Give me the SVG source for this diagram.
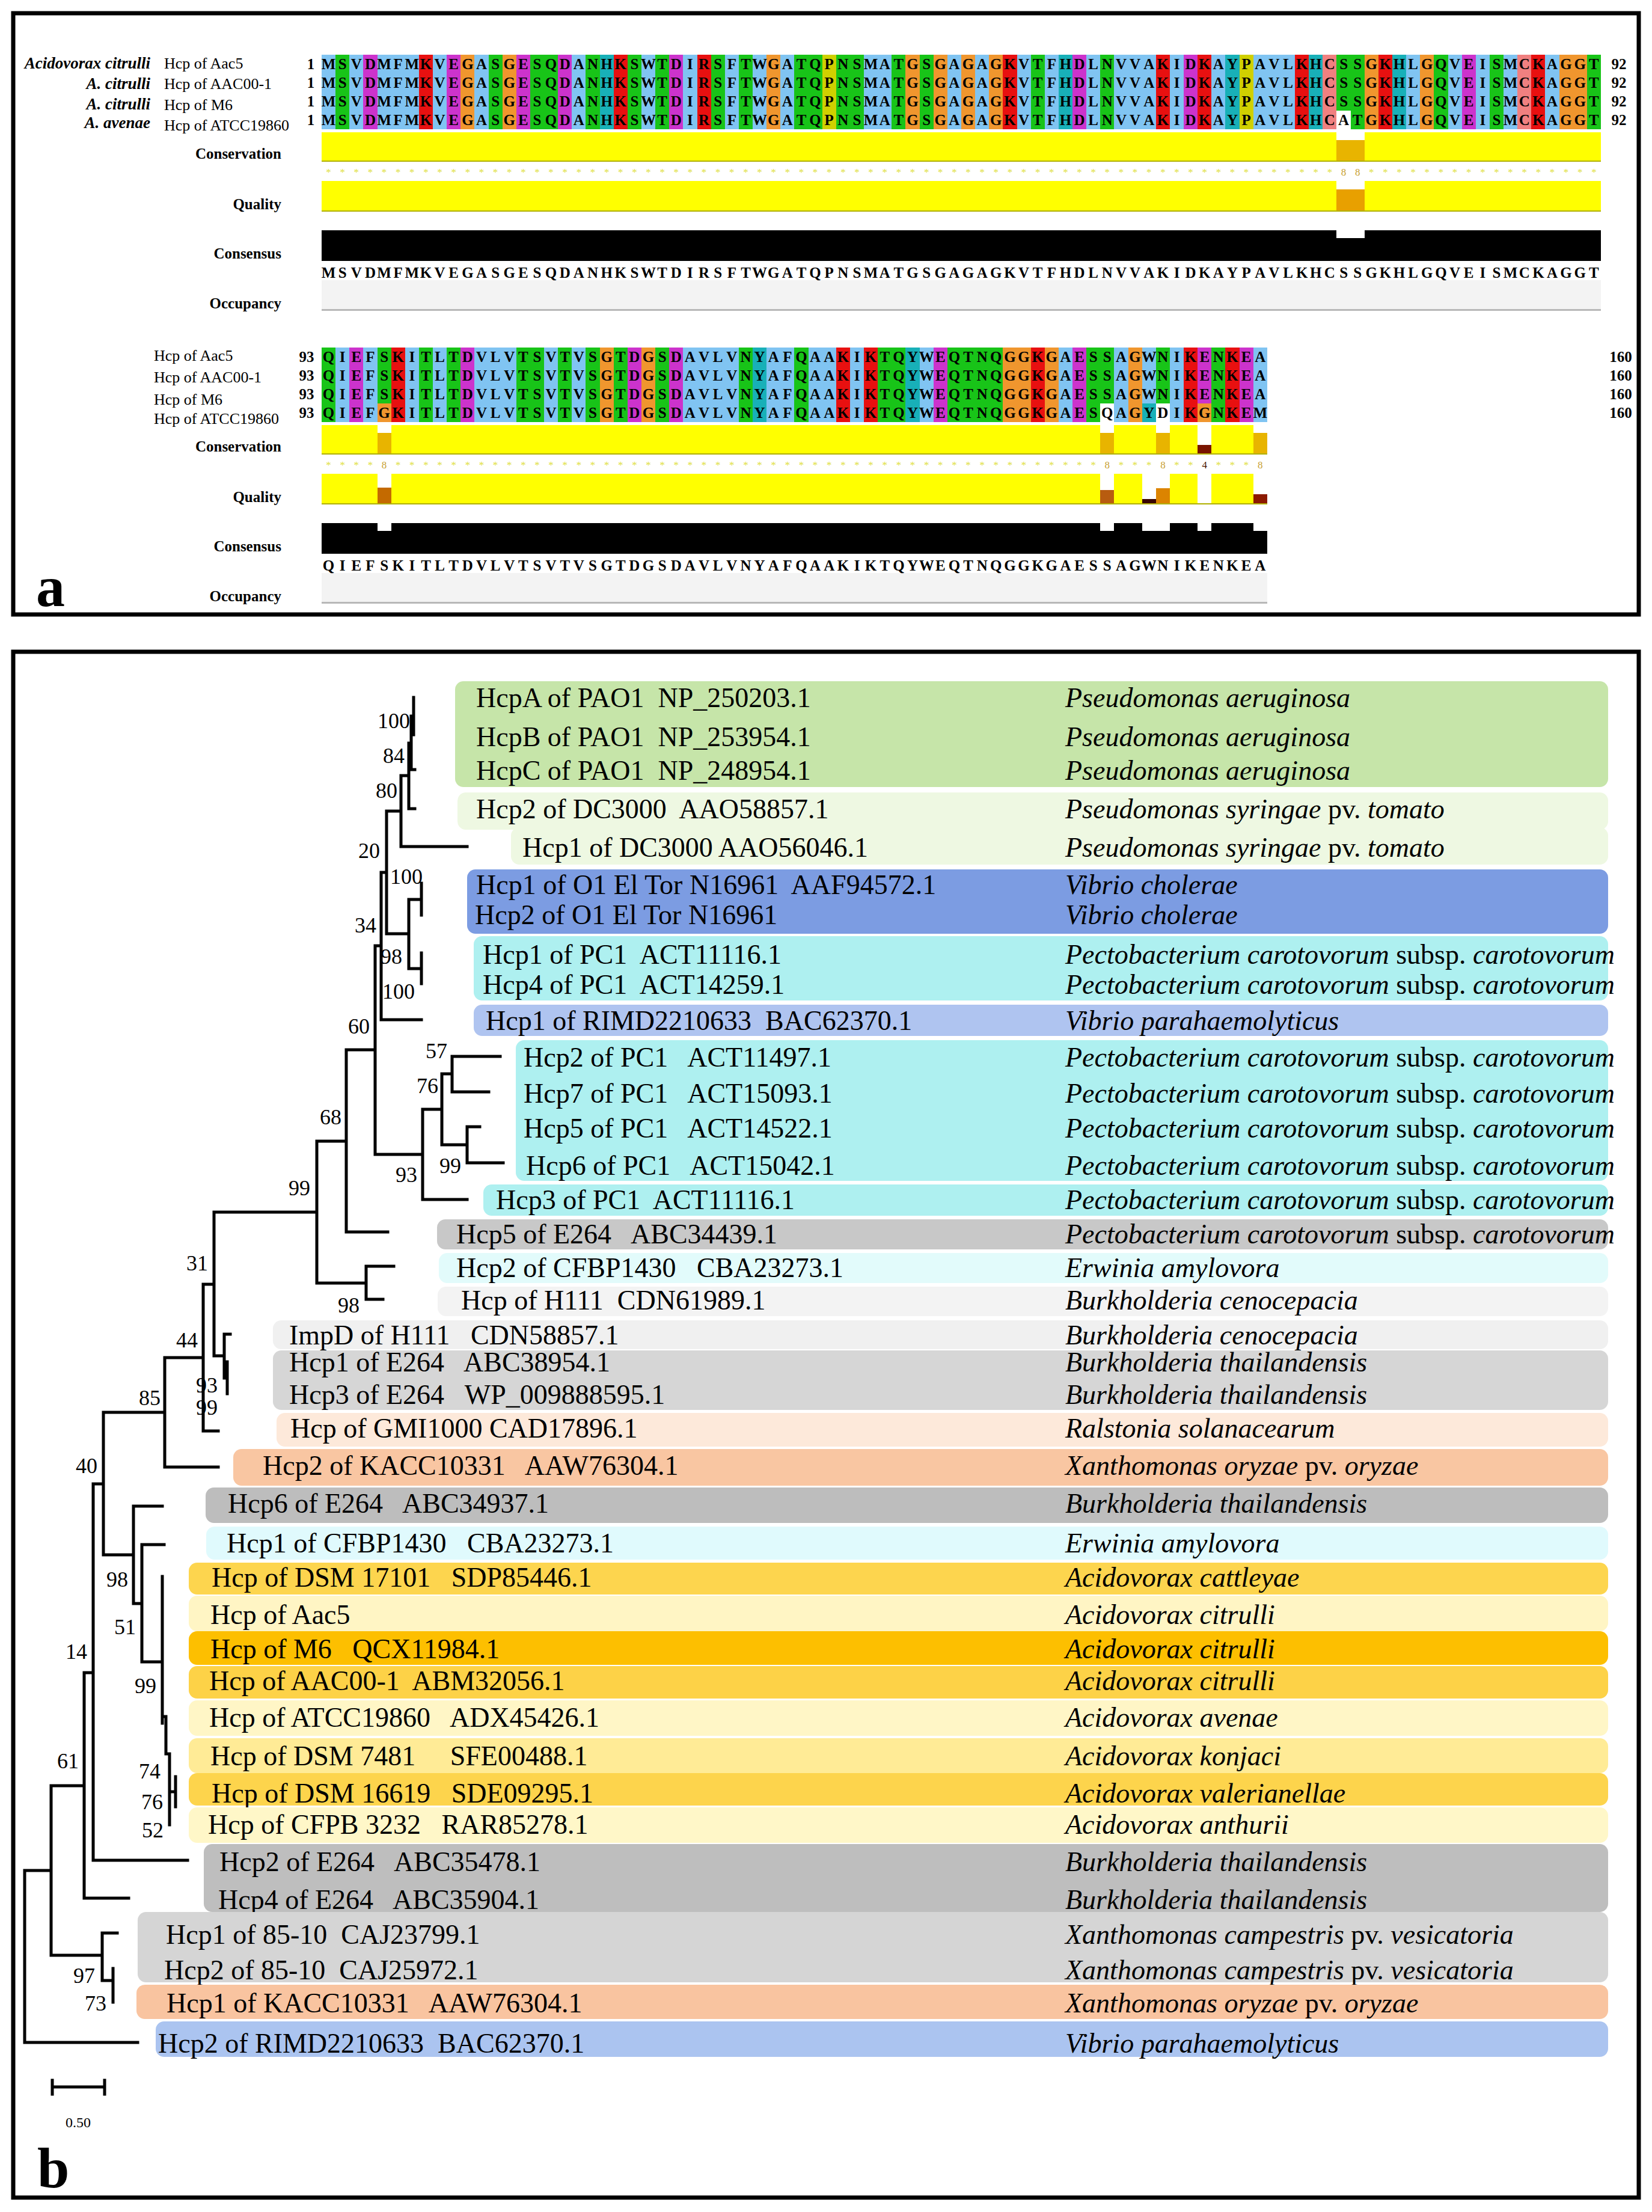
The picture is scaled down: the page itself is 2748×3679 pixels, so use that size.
<svg xmlns="http://www.w3.org/2000/svg" width="2748" height="3679" viewBox="0 0 2748 3679">
<style>
text{font-family:"Liberation Serif","Times New Roman",serif;fill:#000}
.frame{fill:none;stroke:#000;stroke-width:7}
.res{font-size:25px;font-weight:bold;text-anchor:middle}
.cB{fill:#80c4f2}.cG{fill:#18c418}.cM{fill:#cc33cc}.cR{fill:#e81010}.cO{fill:#f0962e}.cY{fill:#d0d000}.cC{fill:#18b0b8}.cK{fill:#f08080}.cW{fill:#fff}
.yel{fill:#ffff00}.blk{fill:#000}.occ{fill:#f3f3f3}.occl{fill:#b8b8b8}.edge{fill:#b0b000}
.o8{fill:#e8b400}.d4{fill:#7a1400}
.lab{font-size:25px;font-weight:bold;text-anchor:end}
.sp{font-size:27px;font-weight:bold;font-style:italic;text-anchor:end}
.nm{font-size:26px}
.num{font-size:25px;font-weight:bold;text-anchor:middle}
.mk{font-size:17px;text-anchor:middle;fill:#e0e040}
.m8{fill:#c8a030}.m4{fill:#4a1500}
.leaf{font-size:46px;white-space:pre}
.spc{font-size:46px;font-style:italic;white-space:pre}
.up{font-style:normal}
.bs{font-size:36px;text-anchor:middle}
.br{fill:none;stroke:#000;stroke-width:5;stroke-linecap:square}
.big{font-size:96px;font-weight:bold}
</style>
<defs>
<text id="s1" class="res" x="546.6 569.7 592.8 616 639.1 662.2 685.3 708.5 731.6 754.7 777.9 801 824.1 847.3 870.4 893.5 916.6 939.8 962.9 986 1009.2 1032.3 1055.4 1078.6 1101.7 1124.8 1147.9 1171.1 1194.2 1217.3 1240.5 1263.6 1286.7 1309.9 1333 1356.1 1379.2 1402.4 1425.5 1448.6 1471.8 1494.9 1518 1541.2 1564.3 1587.4 1610.5 1633.7 1656.8 1679.9 1703.1 1726.2 1749.3 1772.5 1795.6 1818.7 1841.8 1865 1888.1 1911.2 1934.4 1957.5 1980.6 2003.8 2026.9 2050 2073.1 2096.3 2119.4 2142.5 2165.7 2188.8 2211.9 2235.1 2258.2 2281.3 2304.4 2327.6 2350.7 2373.8 2397 2420.1 2443.2 2466.4 2489.5 2512.6 2535.7 2558.9 2582 2605.1 2628.3 2651.4" y="0">MSVDMFMKVEGASGESQDANHKSWTDIRSFTWGATQPNSMATGSGAGAGKVTFHDLNVVAKIDKAYPAVLKHCSSGKHLGQVEISMCKAGGT</text>
<text id="s2" class="res" x="546.6 569.7 592.8 616 639.1 662.2 685.3 708.5 731.6 754.7 777.9 801 824.1 847.3 870.4 893.5 916.6 939.8 962.9 986 1009.2 1032.3 1055.4 1078.6 1101.7 1124.8 1147.9 1171.1 1194.2 1217.3 1240.5 1263.6 1286.7 1309.9 1333 1356.1 1379.2 1402.4 1425.5 1448.6 1471.8 1494.9 1518 1541.2 1564.3 1587.4 1610.5 1633.7 1656.8 1679.9 1703.1 1726.2 1749.3 1772.5 1795.6 1818.7 1841.8 1865 1888.1 1911.2 1934.4 1957.5 1980.6 2003.8 2026.9 2050 2073.1 2096.3" y="0">QIEFSKITLTDVLVTSVTVSGTDGSDAVLVNYAFQAAKIKTQYWEQTNQGGKGAESSAGWNIKENKEA</text>
</defs>
<rect width="2748" height="3679" fill="#fff"/>

<!-- ============ PANEL A ============ -->
<g id="panel-a">
<rect class="frame" x="22" y="22" width="2704" height="1000"/>
<text class="big" x="60" y="1008">a</text>

<!-- block 1 labels -->
<g id="a-labels-1">
<text class="sp" x="250" y="114">Acidovorax citrulli</text>
<text class="sp" x="250" y="148">A. citrulli</text>
<text class="sp" x="250" y="182">A. citrulli</text>
<text class="sp" x="250" y="213">A. avenae</text>
<text class="nm" x="273" y="114">Hcp of Aac5</text>
<text class="nm" x="273" y="148">Hcp of AAC00-1</text>
<text class="nm" x="273" y="183">Hcp of M6</text>
<text class="nm" x="273" y="217">Hcp of ATCC19860</text>
<text class="num" x="517" y="115">1</text><text class="num" x="517" y="146">1</text><text class="num" x="517" y="177">1</text><text class="num" x="517" y="208">1</text>
<text class="num" x="2693" y="115">92</text><text class="num" x="2693" y="146">92</text><text class="num" x="2693" y="177">92</text><text class="num" x="2693" y="208">92</text>
<text class="lab" x="468" y="264">Conservation</text>
<text class="lab" x="468" y="348">Quality</text>
<text class="lab" x="468" y="430">Consensus</text>
<text class="lab" x="468" y="513">Occupancy</text>
</g>

<!-- block 1 residue colours -->
<g id="a-colours-1" transform="translate(535,91) scale(23.13,1)" shape-rendering="crispEdges">
<rect class="cB" x="0" width="1" height="124"/><rect class="cG" x="1" width="1" height="124"/><rect class="cB" x="2" width="1" height="124"/><rect class="cM" x="3" width="1" height="124"/><rect class="cB" x="4" width="3" height="124"/><rect class="cR" x="7" width="1" height="124"/><rect class="cB" x="8" width="1" height="124"/><rect class="cM" x="9" width="1" height="124"/><rect class="cO" x="10" width="1" height="124"/><rect class="cB" x="11" width="1" height="124"/><rect class="cG" x="12" width="1" height="124"/><rect class="cO" x="13" width="1" height="124"/><rect class="cM" x="14" width="1" height="124"/><rect class="cG" x="15" width="2" height="124"/><rect class="cM" x="17" width="1" height="124"/><rect class="cB" x="18" width="1" height="124"/><rect class="cG" x="19" width="1" height="124"/><rect class="cC" x="20" width="1" height="124"/><rect class="cR" x="21" width="1" height="124"/><rect class="cG" x="22" width="1" height="124"/><rect class="cB" x="23" width="1" height="124"/><rect class="cG" x="24" width="1" height="124"/><rect class="cM" x="25" width="1" height="124"/><rect class="cB" x="26" width="1" height="124"/><rect class="cR" x="27" width="1" height="124"/><rect class="cG" x="28" width="1" height="124"/><rect class="cB" x="29" width="1" height="124"/><rect class="cG" x="30" width="1" height="124"/><rect class="cB" x="31" width="1" height="124"/><rect class="cO" x="32" width="1" height="124"/><rect class="cB" x="33" width="1" height="124"/><rect class="cG" x="34" width="2" height="124"/><rect class="cY" x="36" width="1" height="124"/><rect class="cG" x="37" width="2" height="124"/><rect class="cB" x="39" width="2" height="124"/><rect class="cG" x="41" width="1" height="124"/><rect class="cO" x="42" width="1" height="124"/><rect class="cG" x="43" width="1" height="124"/><rect class="cO" x="44" width="1" height="124"/><rect class="cB" x="45" width="1" height="124"/><rect class="cO" x="46" width="1" height="124"/><rect class="cB" x="47" width="1" height="124"/><rect class="cO" x="48" width="1" height="124"/><rect class="cR" x="49" width="1" height="124"/><rect class="cB" x="50" width="1" height="124"/><rect class="cG" x="51" width="1" height="124"/><rect class="cB" x="52" width="1" height="124"/><rect class="cC" x="53" width="1" height="124"/><rect class="cM" x="54" width="1" height="124"/><rect class="cB" x="55" width="1" height="124"/><rect class="cG" x="56" width="1" height="124"/><rect class="cB" x="57" width="3" height="124"/><rect class="cR" x="60" width="1" height="124"/><rect class="cB" x="61" width="1" height="124"/><rect class="cM" x="62" width="1" height="124"/><rect class="cR" x="63" width="1" height="124"/><rect class="cB" x="64" width="1" height="124"/><rect class="cC" x="65" width="1" height="124"/><rect class="cY" x="66" width="1" height="124"/><rect class="cB" x="67" width="3" height="124"/><rect class="cR" x="70" width="1" height="124"/><rect class="cC" x="71" width="1" height="124"/><rect class="cK" x="72" width="1" height="124"/><rect class="cG" x="73" width="2" height="124"/><rect class="cO" x="75" width="1" height="124"/><rect class="cR" x="76" width="1" height="124"/><rect class="cC" x="77" width="1" height="124"/><rect class="cB" x="78" width="1" height="124"/><rect class="cO" x="79" width="1" height="124"/><rect class="cG" x="80" width="1" height="124"/><rect class="cB" x="81" width="1" height="124"/><rect class="cM" x="82" width="1" height="124"/><rect class="cB" x="83" width="1" height="124"/><rect class="cG" x="84" width="1" height="124"/><rect class="cB" x="85" width="1" height="124"/><rect class="cK" x="86" width="1" height="124"/><rect class="cR" x="87" width="1" height="124"/><rect class="cB" x="88" width="1" height="124"/><rect class="cO" x="89" width="2" height="124"/><rect class="cG" x="91" width="1" height="124"/>
<rect class="cW" x="73" y="93" width="1" height="31"/>
</g>

<!-- block 1 annotation tracks -->
<g id="a-tracks-1" transform="translate(535,0) scale(23.13,1)" shape-rendering="crispEdges">
<rect class="yel" x="0" y="220" width="92" height="49"/>
<rect class="cW" x="73" y="220" width="2" height="13"/><rect class="o8" x="73" y="233" width="2" height="36"/>
<rect class="edge" x="0" y="267" width="92" height="2"/>
<rect class="yel" x="0" y="301" width="92" height="51"/>
<rect class="cW" x="73" y="301" width="2" height="14"/><rect fill="#e8a000" x="73" y="315" width="2" height="37"/>
<rect class="edge" x="0" y="350" width="92" height="2"/>
<rect class="blk" x="0" y="383" width="92" height="51"/>
<rect class="cW" x="73" y="383" width="2" height="13"/>
<rect class="occ" x="0" y="466" width="92" height="50"/>
<rect class="occl" x="0" y="514" width="92" height="3"/>
</g>
<g id="a-seq-1">
<use href="#s1" y="115"/><use href="#s1" y="146"/><use href="#s1" y="177"/>
<text class="res" x="546.6 569.7 592.8 616 639.1 662.2 685.3 708.5 731.6 754.7 777.9 801 824.1 847.3 870.4 893.5 916.6 939.8 962.9 986 1009.2 1032.3 1055.4 1078.6 1101.7 1124.8 1147.9 1171.1 1194.2 1217.3 1240.5 1263.6 1286.7 1309.9 1333 1356.1 1379.2 1402.4 1425.5 1448.6 1471.8 1494.9 1518 1541.2 1564.3 1587.4 1610.5 1633.7 1656.8 1679.9 1703.1 1726.2 1749.3 1772.5 1795.6 1818.7 1841.8 1865 1888.1 1911.2 1934.4 1957.5 1980.6 2003.8 2026.9 2050 2073.1 2096.3 2119.4 2142.5 2165.7 2188.8 2211.9 2235.1 2258.2 2281.3 2304.4 2327.6 2350.7 2373.8 2397 2420.1 2443.2 2466.4 2489.5 2512.6 2535.7 2558.9 2582 2605.1 2628.3 2651.4" y="208">MSVDMFMKVEGASGESQDANHKSWTDIRSFTWGATQPNSMATGSGAGAGKVTFHDLNVVAKIDKAYPAVLKHCATGKHLGQVEISMCKAGGT</text>
<use href="#s1" y="462"/>
<text class="mk" x="546.6 569.7 592.8 616 639.1 662.2 685.3 708.5 731.6 754.7 777.9 801 824.1 847.3 870.4 893.5 916.6 939.8 962.9 986 1009.2 1032.3 1055.4 1078.6 1101.7 1124.8 1147.9 1171.1 1194.2 1217.3 1240.5 1263.6 1286.7 1309.9 1333 1356.1 1379.2 1402.4 1425.5 1448.6 1471.8 1494.9 1518 1541.2 1564.3 1587.4 1610.5 1633.7 1656.8 1679.9 1703.1 1726.2 1749.3 1772.5 1795.6 1818.7 1841.8 1865 1888.1 1911.2 1934.4 1957.5 1980.6 2003.8 2026.9 2050 2073.1 2096.3 2119.4 2142.5 2165.7 2188.8 2211.9 2235.1 2258.2 2281.3 2304.4 2327.6 2350.7 2373.8 2397 2420.1 2443.2 2466.4 2489.5 2512.6 2535.7 2558.9 2582 2605.1 2628.3 2651.4" y="292">*************************************************************************<tspan class="m8">88</tspan>*****************</text>
</g>

<!-- block 2 labels -->
<g id="a-labels-2">
<text class="nm" x="256" y="600">Hcp of Aac5</text>
<text class="nm" x="256" y="636">Hcp of AAC00-1</text>
<text class="nm" x="256" y="673">Hcp of M6</text>
<text class="nm" x="256" y="705">Hcp of ATCC19860</text>
<text class="num" x="510" y="602">93</text><text class="num" x="510" y="633">93</text><text class="num" x="510" y="664">93</text><text class="num" x="510" y="695">93</text>
<text class="num" x="2696" y="602">160</text><text class="num" x="2696" y="633">160</text><text class="num" x="2696" y="664">160</text><text class="num" x="2696" y="695">160</text>
<text class="lab" x="468" y="751">Conservation</text>
<text class="lab" x="468" y="835">Quality</text>
<text class="lab" x="468" y="917">Consensus</text>
<text class="lab" x="468" y="1000">Occupancy</text>
</g>

<g id="a-colours-2" transform="translate(535,578) scale(23.13,1)" shape-rendering="crispEdges">
<rect class="cG" x="0" width="1" height="124"/><rect class="cB" x="1" width="1" height="124"/><rect class="cM" x="2" width="1" height="124"/><rect class="cB" x="3" width="1" height="124"/><rect class="cG" x="4" width="1" height="124"/><rect class="cR" x="5" width="1" height="124"/><rect class="cB" x="6" width="1" height="124"/><rect class="cG" x="7" width="1" height="124"/><rect class="cB" x="8" width="1" height="124"/><rect class="cG" x="9" width="1" height="124"/><rect class="cM" x="10" width="1" height="124"/><rect class="cB" x="11" width="3" height="124"/><rect class="cG" x="14" width="2" height="124"/><rect class="cB" x="16" width="1" height="124"/><rect class="cG" x="17" width="1" height="124"/><rect class="cB" x="18" width="1" height="124"/><rect class="cG" x="19" width="1" height="124"/><rect class="cO" x="20" width="1" height="124"/><rect class="cG" x="21" width="1" height="124"/><rect class="cM" x="22" width="1" height="124"/><rect class="cO" x="23" width="1" height="124"/><rect class="cG" x="24" width="1" height="124"/><rect class="cM" x="25" width="1" height="124"/><rect class="cB" x="26" width="4" height="124"/><rect class="cG" x="30" width="1" height="124"/><rect class="cC" x="31" width="1" height="124"/><rect class="cB" x="32" width="2" height="124"/><rect class="cG" x="34" width="1" height="124"/><rect class="cB" x="35" width="2" height="124"/><rect class="cR" x="37" width="1" height="124"/><rect class="cB" x="38" width="1" height="124"/><rect class="cR" x="39" width="1" height="124"/><rect class="cG" x="40" width="2" height="124"/><rect class="cC" x="42" width="1" height="124"/><rect class="cB" x="43" width="1" height="124"/><rect class="cM" x="44" width="1" height="124"/><rect class="cG" x="45" width="4" height="124"/><rect class="cO" x="49" width="2" height="124"/><rect class="cR" x="51" width="1" height="124"/><rect class="cO" x="52" width="1" height="124"/><rect class="cB" x="53" width="1" height="124"/><rect class="cM" x="54" width="1" height="124"/><rect class="cG" x="55" width="2" height="124"/><rect class="cB" x="57" width="1" height="124"/><rect class="cO" x="58" width="1" height="124"/><rect class="cB" x="59" width="1" height="124"/><rect class="cG" x="60" width="1" height="124"/><rect class="cB" x="61" width="1" height="124"/><rect class="cR" x="62" width="1" height="124"/><rect class="cM" x="63" width="1" height="124"/><rect class="cG" x="64" width="1" height="124"/><rect class="cR" x="65" width="1" height="124"/><rect class="cM" x="66" width="1" height="124"/><rect class="cB" x="67" width="1" height="124"/>
<rect class="cO" x="4" y="93" width="1" height="31"/><rect class="cW" x="56" y="93" width="1" height="31"/><rect class="cC" x="59" y="93" width="1" height="31"/><rect class="cW" x="60" y="93" width="1" height="31"/><rect class="cO" x="63" y="93" width="1" height="31"/>
</g>

<g id="a-tracks-2" transform="translate(535,0) scale(23.13,1)" shape-rendering="crispEdges">
<rect class="yel" x="0" y="707" width="68" height="49"/>
<rect class="cW" x="4" y="707" width="1" height="13"/><rect class="o8" x="4" y="720" width="1" height="36"/>
<rect class="cW" x="56" y="707" width="1" height="13"/><rect class="o8" x="56" y="720" width="1" height="36"/>
<rect class="cW" x="60" y="707" width="1" height="13"/><rect class="o8" x="60" y="720" width="1" height="36"/>
<rect class="cW" x="63" y="707" width="1" height="33"/><rect class="d4" x="63" y="740" width="1" height="16"/>
<rect class="cW" x="67" y="707" width="1" height="13"/><rect class="o8" x="67" y="720" width="1" height="36"/>
<rect class="edge" x="0" y="754" width="68" height="2"/>
<rect class="yel" x="0" y="788" width="68" height="51"/>
<rect class="cW" x="4" y="788" width="1" height="23"/><rect fill="#c46a00" x="4" y="811" width="1" height="28"/>
<rect class="cW" x="56" y="788" width="1" height="27"/><rect fill="#b85c10" x="56" y="815" width="1" height="24"/>
<rect class="cW" x="59" y="788" width="1" height="42"/><rect fill="#3a0600" x="59" y="830" width="1" height="9"/>
<rect class="cW" x="60" y="788" width="1" height="24"/><rect fill="#dc8400" x="60" y="812" width="1" height="27"/>
<rect class="cW" x="63" y="788" width="1" height="51"/>
<rect class="cW" x="67" y="788" width="1" height="34"/><rect fill="#8c1a00" x="67" y="822" width="1" height="17"/>
<rect class="edge" x="0" y="837" width="68" height="2"/>
<rect class="blk" x="0" y="870" width="68" height="51"/>
<rect class="cW" x="4" y="870" width="1" height="13"/><rect class="cW" x="56" y="870" width="1" height="13"/><rect class="cW" x="59" y="870" width="2" height="13"/><rect class="cW" x="63" y="870" width="1" height="13"/><rect class="cW" x="67" y="870" width="1" height="13"/>
<rect class="occ" x="0" y="953" width="68" height="50"/>
<rect class="occl" x="0" y="1001" width="68" height="3"/>
</g>
<g id="a-seq-2">
<use href="#s2" y="602"/><use href="#s2" y="633"/><use href="#s2" y="664"/>
<text class="res" x="546.6 569.7 592.8 616 639.1 662.2 685.3 708.5 731.6 754.7 777.9 801 824.1 847.3 870.4 893.5 916.6 939.8 962.9 986 1009.2 1032.3 1055.4 1078.6 1101.7 1124.8 1147.9 1171.1 1194.2 1217.3 1240.5 1263.6 1286.7 1309.9 1333 1356.1 1379.2 1402.4 1425.5 1448.6 1471.8 1494.9 1518 1541.2 1564.3 1587.4 1610.5 1633.7 1656.8 1679.9 1703.1 1726.2 1749.3 1772.5 1795.6 1818.7 1841.8 1865 1888.1 1911.2 1934.4 1957.5 1980.6 2003.8 2026.9 2050 2073.1 2096.3" y="695">QIEFGKITLTDVLVTSVTVSGTDGSDAVLVNYAFQAAKIKTQYWEQTNQGGKGAESQAGYDIKGNKEM</text>
<use href="#s2" y="949"/>
<text class="mk" x="546.6 569.7 592.8 616 639.1 662.2 685.3 708.5 731.6 754.7 777.9 801 824.1 847.3 870.4 893.5 916.6 939.8 962.9 986 1009.2 1032.3 1055.4 1078.6 1101.7 1124.8 1147.9 1171.1 1194.2 1217.3 1240.5 1263.6 1286.7 1309.9 1333 1356.1 1379.2 1402.4 1425.5 1448.6 1471.8 1494.9 1518 1541.2 1564.3 1587.4 1610.5 1633.7 1656.8 1679.9 1703.1 1726.2 1749.3 1772.5 1795.6 1818.7 1841.8 1865 1888.1 1911.2 1934.4 1957.5 1980.6 2003.8 2026.9 2050 2073.1 2096.3" y="779">****<tspan class="m8">8</tspan>***************************************************<tspan class="m8">8</tspan>***<tspan class="m8">8</tspan>**<tspan class="m4">4</tspan>***<tspan class="m8">8</tspan></text>
</g>
</g>

<!-- ============ PANEL B ============ -->
<g id="panel-b">
<rect class="frame" x="22" y="1084" width="2704" height="2571"/>
<text class="big" x="62" y="3638">b</text>

<g id="leaf-pao1">
<rect x="757" y="1133" width="1918" height="176" rx="14" fill="#c6e5a9"/>
<text class="leaf" x="792" y="1176">HcpA of PAO1  NP_250203.1</text><text class="spc" x="1772" y="1176">Pseudomonas aeruginosa</text>
<text class="leaf" x="792" y="1241">HcpB of PAO1  NP_253954.1</text><text class="spc" x="1772" y="1241">Pseudomonas aeruginosa</text>
<text class="leaf" x="792" y="1297">HcpC of PAO1  NP_248954.1</text><text class="spc" x="1772" y="1297">Pseudomonas aeruginosa</text>
</g>
<g id="leaf-dc3000">
<rect x="761" y="1318" width="1914" height="62" rx="14" fill="#eef8e2"/>
<rect x="850" y="1376" width="1825" height="62" rx="14" fill="#eef8e2"/>
<text class="leaf" x="792" y="1361">Hcp2 of DC3000  AAO58857.1</text><text class="spc" x="1772" y="1361">Pseudomonas syringae <tspan class="up">pv.</tspan> tomato</text>
<text class="leaf" x="869" y="1425">Hcp1 of DC3000 AAO56046.1</text><text class="spc" x="1772" y="1425">Pseudomonas syringae <tspan class="up">pv.</tspan> tomato</text>
</g>
<g id="leaf-o1">
<rect x="777" y="1446" width="1898" height="107" rx="14" fill="#7c9ce2"/>
<text class="leaf" x="792" y="1487">Hcp1 of O1 El Tor N16961  AAF94572.1</text><text class="spc" x="1772" y="1487">Vibrio cholerae</text>
<text class="leaf" x="790" y="1537">Hcp2 of O1 El Tor N16961</text><text class="spc" x="1772" y="1537">Vibrio cholerae</text>
</g>
<g id="leaf-pc1-a">
<rect x="788" y="1557" width="1887" height="107" rx="14" fill="#aef0f0"/>
<text class="leaf" x="803" y="1603">Hcp1 of PC1  ACT11116.1</text><text class="spc" x="1772" y="1603">Pectobacterium carotovorum <tspan class="up">subsp.</tspan> carotovorum</text>
<text class="leaf" x="803" y="1653">Hcp4 of PC1  ACT14259.1</text><text class="spc" x="1772" y="1653">Pectobacterium carotovorum <tspan class="up">subsp.</tspan> carotovorum</text>
</g>
<g id="leaf-rimd1">
<rect x="788" y="1671" width="1887" height="52" rx="14" fill="#afc4f0"/>
<text class="leaf" x="808" y="1713">Hcp1 of RIMD2210633  BAC62370.1</text><text class="spc" x="1772" y="1713">Vibrio parahaemolyticus</text>
</g>
<g id="leaf-pc1-b">
<rect x="858" y="1730" width="1817" height="234" rx="14" fill="#aef0f0"/>
<text class="leaf" x="871" y="1774">Hcp2 of PC1   ACT11497.1</text><text class="spc" x="1772" y="1774">Pectobacterium carotovorum <tspan class="up">subsp.</tspan> carotovorum</text>
<text class="leaf" x="871" y="1834">Hcp7 of PC1   ACT15093.1</text><text class="spc" x="1772" y="1834">Pectobacterium carotovorum <tspan class="up">subsp.</tspan> carotovorum</text>
<text class="leaf" x="871" y="1892">Hcp5 of PC1   ACT14522.1</text><text class="spc" x="1772" y="1892">Pectobacterium carotovorum <tspan class="up">subsp.</tspan> carotovorum</text>
<text class="leaf" x="875" y="1954">Hcp6 of PC1   ACT15042.1</text><text class="spc" x="1772" y="1954">Pectobacterium carotovorum <tspan class="up">subsp.</tspan> carotovorum</text>
</g>
<g id="leaf-pc1-c">
<rect x="804" y="1970" width="1871" height="52" rx="14" fill="#aef0f0"/>
<text class="leaf" x="825" y="2011">Hcp3 of PC1  ACT11116.1</text><text class="spc" x="1772" y="2011">Pectobacterium carotovorum <tspan class="up">subsp.</tspan> carotovorum</text>
</g>
<g id="leaf-e264-5">
<rect x="727" y="2028" width="1948" height="50" rx="14" fill="#c8c8c8"/>
<text class="leaf" x="759" y="2068">Hcp5 of E264   ABC34439.1</text><text class="spc" x="1772" y="2068">Pectobacterium carotovorum <tspan class="up">subsp.</tspan> carotovorum</text>
</g>
<g id="leaf-cfbp2">
<rect x="730" y="2084" width="1945" height="50" rx="14" fill="#e2fbfb"/>
<text class="leaf" x="759" y="2124">Hcp2 of CFBP1430   CBA23273.1</text><text class="spc" x="1772" y="2124">Erwinia amylovora</text>
</g>
<g id="leaf-h111">
<rect x="728" y="2140" width="1947" height="49" rx="14" fill="#f3f3f3"/>
<text class="leaf" x="767" y="2178">Hcp of H111  CDN61989.1</text><text class="spc" x="1772" y="2178">Burkholderia cenocepacia</text>
</g>
<g id="leaf-impd">
<rect x="454" y="2196" width="2221" height="48" rx="14" fill="#f0f0f0"/>
<text class="leaf" x="481" y="2236">ImpD of H111   CDN58857.1</text><text class="spc" x="1772" y="2236">Burkholderia cenocepacia</text>
</g>
<g id="leaf-e264-13">
<rect x="454" y="2246" width="2221" height="99" rx="14" fill="#d6d6d6"/>
<text class="leaf" x="481" y="2281">Hcp1 of E264   ABC38954.1</text><text class="spc" x="1772" y="2281">Burkholderia thailandensis</text>
<text class="leaf" x="481" y="2335">Hcp3 of E264   WP_009888595.1</text><text class="spc" x="1772" y="2335">Burkholderia thailandensis</text>
</g>
<g id="leaf-gmi">
<rect x="460" y="2350" width="2215" height="56" rx="14" fill="#fde9da"/>
<text class="leaf" x="483" y="2391">Hcp of GMI1000 CAD17896.1</text><text class="spc" x="1772" y="2391">Ralstonia solanacearum</text>
</g>
<g id="leaf-kacc2">
<rect x="388" y="2410" width="2287" height="61" rx="14" fill="#f9c6a2"/>
<text class="leaf" x="437" y="2453">Hcp2 of KACC10331   AAW76304.1</text><text class="spc" x="1772" y="2453">Xanthomonas oryzae <tspan class="up">pv.</tspan> oryzae</text>
</g>
<g id="leaf-e264-6">
<rect x="342" y="2474" width="2333" height="59" rx="14" fill="#bdbdbd"/>
<text class="leaf" x="379" y="2516">Hcp6 of E264   ABC34937.1</text><text class="spc" x="1772" y="2516">Burkholderia thailandensis</text>
</g>
<g id="leaf-cfbp1">
<rect x="343" y="2539" width="2332" height="55" rx="14" fill="#e0fafd"/>
<text class="leaf" x="377" y="2582">Hcp1 of CFBP1430   CBA23273.1</text><text class="spc" x="1772" y="2582">Erwinia amylovora</text>
</g>
<g id="leaf-dsm17101">
<rect x="314" y="2599" width="2361" height="53" rx="14" fill="#fdd54e"/>
<text class="leaf" x="352" y="2639">Hcp of DSM 17101   SDP85446.1</text><text class="spc" x="1772" y="2639">Acidovorax cattleyae</text>
</g>
<g id="leaf-aac5">
<rect x="314" y="2654" width="2361" height="59" rx="14" fill="#fff5c4"/>
<text class="leaf" x="350" y="2701">Hcp of Aac5</text><text class="spc" x="1772" y="2701">Acidovorax citrulli</text>
</g>
<g id="leaf-m6">
<rect x="314" y="2713" width="2361" height="56" rx="14" fill="#fdbf00"/>
<text class="leaf" x="350" y="2758">Hcp of M6   QCX11984.1</text><text class="spc" x="1772" y="2758">Acidovorax citrulli</text>
</g>
<g id="leaf-aac00">
<rect x="314" y="2771" width="2361" height="54" rx="14" fill="#fdd247"/>
<text class="leaf" x="348" y="2811">Hcp of AAC00-1  ABM32056.1</text><text class="spc" x="1772" y="2811">Acidovorax citrulli</text>
</g>
<g id="leaf-atcc">
<rect x="314" y="2828" width="2361" height="59" rx="14" fill="#fff6c6"/>
<text class="leaf" x="348" y="2872">Hcp of ATCC19860   ADX45426.1</text><text class="spc" x="1772" y="2872">Acidovorax avenae</text>
</g>
<g id="leaf-dsm7481">
<rect x="314" y="2891" width="2361" height="58" rx="14" fill="#ffeb96"/>
<text class="leaf" x="350" y="2936">Hcp of DSM 7481     SFE00488.1</text><text class="spc" x="1772" y="2936">Acidovorax konjaci</text>
</g>
<g id="leaf-dsm16619">
<rect x="314" y="2949" width="2361" height="54" rx="14" fill="#fdd44c"/>
<text class="leaf" x="352" y="2998">Hcp of DSM 16619   SDE09295.1</text><text class="spc" x="1772" y="2998">Acidovorax valerianellae</text>
</g>
<g id="leaf-cfpb">
<rect x="314" y="3006" width="2361" height="59" rx="14" fill="#fff7c8"/>
<text class="leaf" x="346" y="3050">Hcp of CFPB 3232   RAR85278.1</text><text class="spc" x="1772" y="3050">Acidovorax anthurii</text>
</g>
<g id="leaf-e264-24">
<rect x="339" y="3067" width="2336" height="113" rx="14" fill="#bebebe"/>
<text class="leaf" x="365" y="3112">Hcp2 of E264   ABC35478.1</text><text class="spc" x="1772" y="3112">Burkholderia thailandensis</text>
<text class="leaf" x="363" y="3175">Hcp4 of E264   ABC35904.1</text><text class="spc" x="1772" y="3175">Burkholderia thailandensis</text>
</g>
<g id="leaf-8510">
<rect x="229" y="3180" width="2446" height="117" rx="14" fill="#d5d5d5"/>
<text class="leaf" x="276" y="3233">Hcp1 of 85-10  CAJ23799.1</text><text class="spc" x="1772" y="3233">Xanthomonas campestris <tspan class="up">pv.</tspan> vesicatoria</text>
<text class="leaf" x="273" y="3292">Hcp2 of 85-10  CAJ25972.1</text><text class="spc" x="1772" y="3292">Xanthomonas campestris <tspan class="up">pv.</tspan> vesicatoria</text>
</g>
<g id="leaf-kacc1">
<rect x="227" y="3301" width="2448" height="57" rx="14" fill="#f9c4a0"/>
<text class="leaf" x="277" y="3347">Hcp1 of KACC10331   AAW76304.1</text><text class="spc" x="1772" y="3347">Xanthomonas oryzae <tspan class="up">pv.</tspan> oryzae</text>
</g>
<g id="leaf-rimd2">
<rect x="259" y="3362" width="2416" height="59" rx="14" fill="#abc4f0"/>
<text class="leaf" x="263" y="3414">Hcp2 of RIMD2210633  BAC62370.1</text><text class="spc" x="1772" y="3414">Vibrio parahaemolyticus</text>
</g>

<g id="connectors">
<path class="br" d="M688,1160V1222 M684,1191V1280 M684,1191H688 M684,1280H690 M680,1236V1345H690 M680,1236H684 M667,1290V1408H777 M667,1290H680 M643,1349V1553H680 M643,1349H667 M680,1496V1611 M680,1496H701 M680,1611H701 M701,1469V1522 M701,1585V1636 M634,1451V1696H701 M634,1451H643 M624,1573V1920H703 M624,1573H634 M703,1845V1995H777 M703,1845H735 M735,1786V1904H777 M735,1786H752 M752,1757V1816H813 M752,1757H832 M777,1874V1934H837 M777,1874H798 M576,1746V2049H645 M576,1746H624 M609,2106V2161H637 M609,2106H655 M527,1898V2134H609 M527,1898H576 M356,2016V2255H373 M356,2016H527 M373,2219V2292H378 M373,2219H383 M378,2265V2318 M338,2136V2380H363 M338,2136H356 M274,2258V2440H363 M274,2258H338 M172,2349V2586H222 M172,2349H274 M222,2505V2667H236 M222,2505H270 M236,2569V2764H270 M236,2569H273 M270,2622V2866 M270,2855H276V2917H282V3035 M282,2980H292 M292,2955V3005 M155,2468V3094H312 M155,2468H172 M140,2782V3157H214 M140,2782H155 M85,2970V3252H170 M85,2970H140 M170,3215V3294H188 M170,3215H195 M188,3274V3330 M41,3111V3397H229 M41,3111H85"/>
</g>

<g id="bootstrap">
<text class="bs" x="655" y="1211">100</text><text class="bs" x="655" y="1269">84</text><text class="bs" x="643" y="1327">80</text><text class="bs" x="614" y="1427">20</text><text class="bs" x="676" y="1470">100</text><text class="bs" x="608" y="1551">34</text><text class="bs" x="651" y="1603">98</text><text class="bs" x="663" y="1661">100</text><text class="bs" x="597" y="1719">60</text><text class="bs" x="726" y="1760">57</text><text class="bs" x="711" y="1818">76</text><text class="bs" x="550" y="1870">68</text><text class="bs" x="676" y="1966">93</text><text class="bs" x="749" y="1951">99</text><text class="bs" x="498" y="1988">99</text><text class="bs" x="328" y="2113">31</text><text class="bs" x="580" y="2183">98</text><text class="bs" x="311" y="2241">44</text><text class="bs" x="249" y="2337">85</text><text class="bs" x="344" y="2316">93</text><text class="bs" x="344" y="2353">99</text><text class="bs" x="144" y="2450">40</text><text class="bs" x="195" y="2639">98</text><text class="bs" x="208" y="2718">51</text><text class="bs" x="127" y="2759">14</text><text class="bs" x="242" y="2816">99</text><text class="bs" x="113" y="2941">61</text><text class="bs" x="249" y="2958">74</text><text class="bs" x="253" y="3009">76</text><text class="bs" x="254" y="3056">52</text><text class="bs" x="140" y="3298">97</text><text class="bs" x="159" y="3344">73</text>
</g>

<g id="scale-bar">
<path class="br" d="M87,3471H174 M87,3460V3483 M174,3460V3483"/>
<text x="130" y="3538" font-size="24" text-anchor="middle">0.50</text>
</g>
</g>
</svg>
